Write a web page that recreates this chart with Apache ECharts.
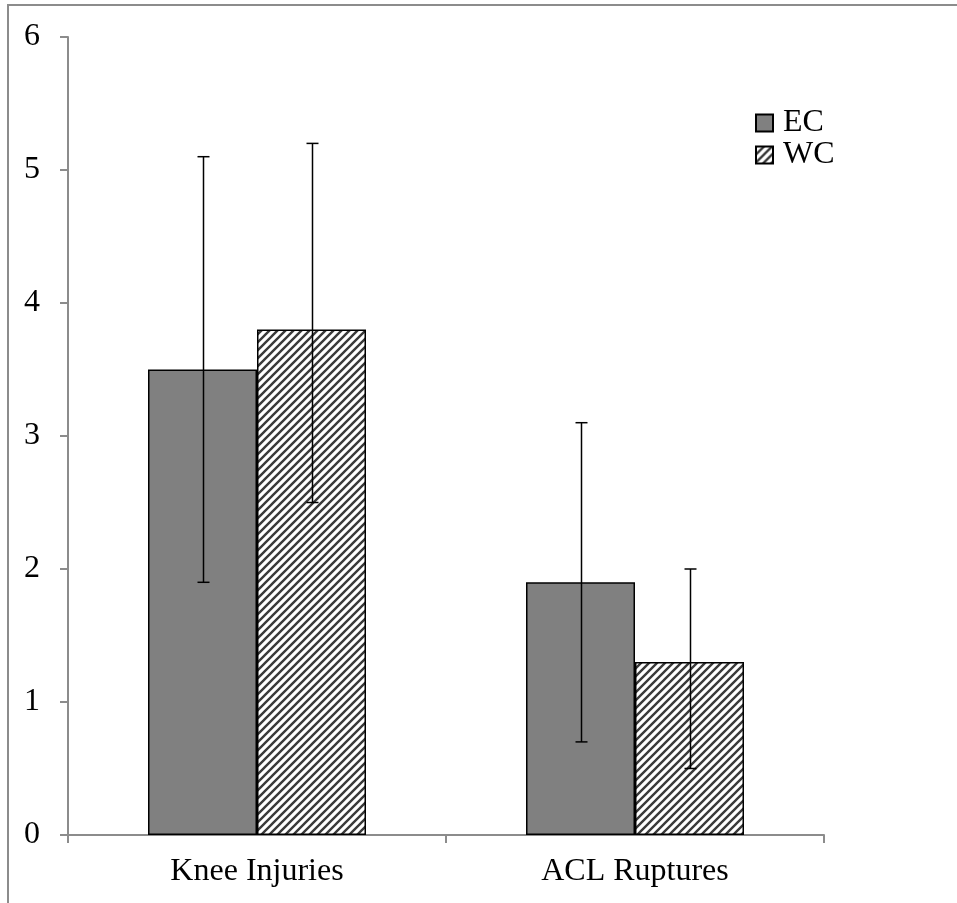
<!DOCTYPE html>
<html>
<head>
<meta charset="utf-8">
<script src="https://cdn.jsdelivr.net/npm/echarts@6/dist/echarts.min.js"></script>
<style>
  html, body { margin: 0; padding: 0; background: #fff; }
  #wrap { position: relative; width: 957px; height: 903px; }
  #frame { position: absolute; left: 7px; top: 4px; right: 0; bottom: 0; border-left: 2px solid #8c8c8c; border-top: 2px solid #8c8c8c; }
  #chart { position: absolute; left: 0; top: 0; width: 957px; height: 903px; }
</style>
</head>
<body>
<div id="wrap">
  <div id="frame"></div>
  <div id="chart"></div>
</div>
<script>
const categories = ['Knee Injuries', 'ACL Ruptures']
const ecMean = [3.5, 1.9]
const wcMean = [3.8, 1.3]
const ecLow = [1.9, 0.7]
const ecHigh = [5.1, 3.1]
const wcLow = [2.5, 0.5]
const wcHigh = [5.2, 2.0]

const BAR_W = 109
const FONT = '"Liberation Serif", "DejaVu Serif", serif'

// diagonal hatch for WC
const makeHatch = () => {
  const c = document.createElement('canvas')
  c.width = 8; c.height = 8
  const ctx = c.getContext('2d')
  ctx.fillStyle = '#fff'
  ctx.fillRect(0, 0, 8, 8)
  ctx.strokeStyle = '#3a3a3a'
  ctx.lineWidth = 2.4
  ctx.beginPath()
  ctx.moveTo(-2, 10); ctx.lineTo(10, -2)
  ctx.moveTo(-6, 6); ctx.lineTo(6, -6)
  ctx.moveTo(2, 14); ctx.lineTo(14, 2)
  ctx.stroke()
  return c
}
const hatch = makeHatch()

const errorSeries = (name, low, high, side) => ({
  name: name + ' err', type: 'custom', z: 10,
  data: categories.map((c, i) => [i, low[i], high[i]]),
  renderItem: (params, api) => {
    const lo = api.coord([api.value(0), api.value(1)])
    const hi = api.coord([api.value(0), api.value(2)])
    const x = Math.round(lo[0] + side * BAR_W / 2) + 0.5
    const cap = 6
    const style = { stroke: '#000', lineWidth: 1.5 }
    return {
      type: 'group',
      children: [
        { type: 'line', shape: { x1: x, y1: lo[1], x2: x, y2: hi[1] }, style },
        { type: 'line', shape: { x1: x - cap, y1: lo[1], x2: x + cap, y2: lo[1] }, style },
        { type: 'line', shape: { x1: x - cap, y1: hi[1], x2: x + cap, y2: hi[1] }, style },
      ],
    }
  },
})

const chart = echarts.init(document.getElementById('chart'), null, { renderer: 'canvas' })
chart.setOption({
  animation: false,
  grid: { left: 68, right: 133, top: 37, bottom: 68 },
  legend: {
    orient: 'vertical', left: 755, top: 107, itemGap: 0, padding: 0,
    itemWidth: 17, itemHeight: 17, icon: 'rect', data: ['EC', 'WC'],
    textStyle: { fontFamily: FONT, fontSize: 32, lineHeight: 32, color: '#000', padding: [0, 0, 0, 5] },
  },
  xAxis: {
    type: 'category', data: categories,
    axisLine: { lineStyle: { color: '#8c8c8c', width: 2 } },
    axisTick: { show: true, length: 8, lineStyle: { color: '#8c8c8c', width: 2 } },
    axisLabel: { fontFamily: FONT, fontSize: 32, color: '#000', margin: 21 },
  },
  yAxis: {
    type: 'value', min: 0, max: 6, interval: 1,
    splitLine: { show: false },
    axisLine: { show: true, lineStyle: { color: '#8c8c8c', width: 2 } },
    axisTick: { show: true, length: 8, lineStyle: { color: '#8c8c8c', width: 2 } },
    axisLabel: { fontFamily: FONT, fontSize: 32, color: '#000', margin: 28 },
  },
  series: [
    {
      name: 'EC', type: 'bar', data: ecMean, barWidth: BAR_W, barGap: '0%',
      itemStyle: { color: '#808080', borderColor: '#000', borderWidth: 1.5 },
    },
    {
      name: 'WC', type: 'bar', data: wcMean, barWidth: BAR_W, barGap: '0%',
      itemStyle: { color: { image: hatch, repeat: 'repeat' }, borderColor: '#000', borderWidth: 1.5 },
    },
    errorSeries('EC', ecLow, ecHigh, -1),
    errorSeries('WC', wcLow, wcHigh, 1),
  ],
})
</script>
</body>
</html>
